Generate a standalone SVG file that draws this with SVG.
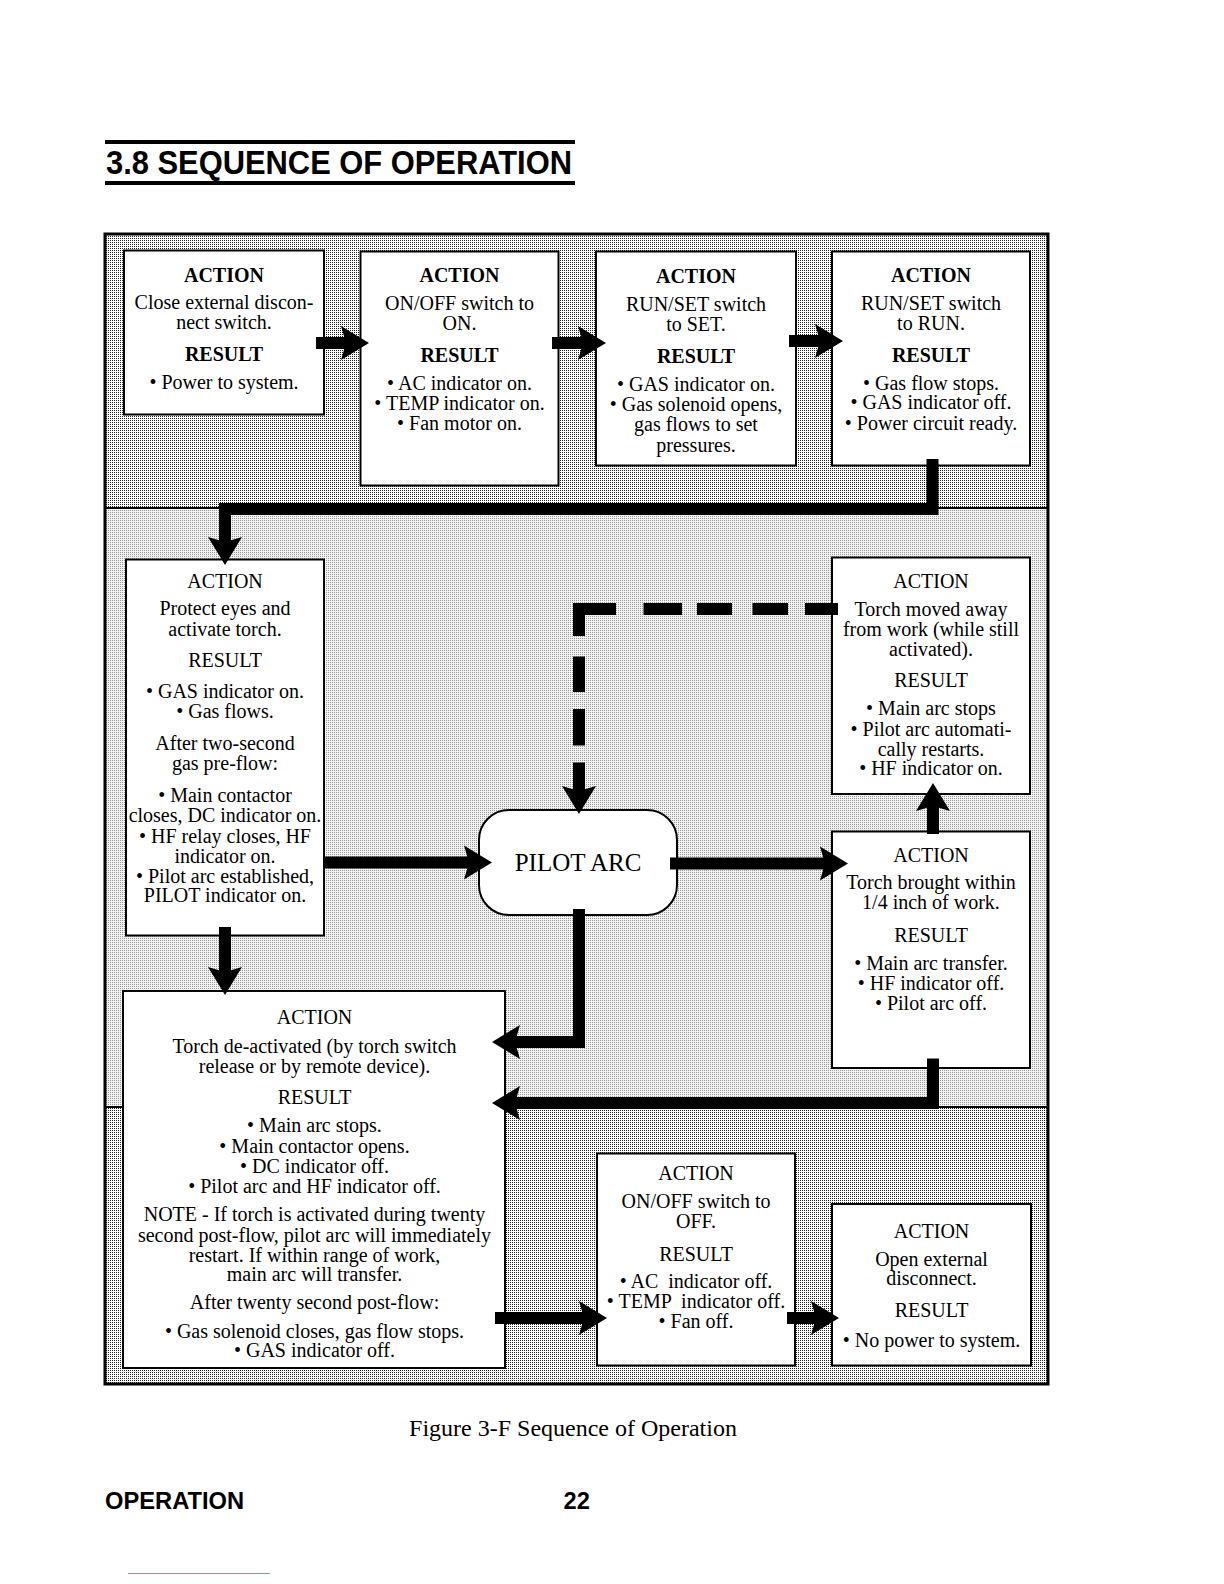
<svg xmlns="http://www.w3.org/2000/svg" width="1224" height="1584" viewBox="0 0 1224 1584">
<defs>
<pattern id="dk" width="2" height="2" patternUnits="userSpaceOnUse"><rect width="2" height="2" fill="#fff"/><rect width="1" height="1" fill="#222"/></pattern>
<pattern id="lt" width="2" height="2" patternUnits="userSpaceOnUse"><rect width="2" height="2" fill="#f2f2f2"/><rect width="1" height="1" fill="#999"/></pattern>
<marker id="ah" markerUnits="userSpaceOnUse" markerWidth="28" markerHeight="40" viewBox="0 0 28 40" refX="16" refY="20" orient="auto"><path d="M0,3 L28,20 L0,37 L5,20 Z" fill="#000"/></marker>
</defs>
<style>
.t{font-family:"Liberation Serif","Times New Roman",serif;font-size:20px;text-anchor:middle;fill:#000}
.b{font-weight:bold}
.big{font-size:25px}
.cap{font-size:24px}
.box{fill:#fff;stroke:#000;stroke-width:2}
.c{fill:none;stroke:#000;stroke-width:12;stroke-linejoin:miter}
.h{font-family:"Liberation Sans",Arial,sans-serif;font-weight:bold;fill:#000}
</style>
<rect width="1224" height="1584" fill="#fff"/>

<g id="title">
<rect x="105" y="140" width="470" height="4" fill="#000"/>
<text class="h" x="106" y="174" font-size="32.5" textLength="466" lengthAdjust="spacingAndGlyphs">3.8 SEQUENCE OF OPERATION</text>
<rect x="105" y="181" width="470" height="4" fill="#000"/>
</g>

<g id="frame">
<rect x="105" y="234" width="943" height="274" fill="url(#dk)"/>
<rect x="105" y="508" width="943" height="599" fill="url(#lt)"/>
<rect x="105" y="1107" width="943" height="277" fill="url(#dk)"/>
<line x1="105" y1="508" x2="1048" y2="508" stroke="#000" stroke-width="2"/>
<line x1="105" y1="1107" x2="1048" y2="1107" stroke="#000" stroke-width="2"/>
<rect x="105" y="234" width="943" height="1150" fill="none" stroke="#000" stroke-width="3"/>
</g>

<g id="n1">
<rect class="box" x="124" y="250.5" width="200" height="164"/>
<text class="t"><tspan class="b" x="224" y="282">ACTION</tspan><tspan x="224" y="309">Close external discon-</tspan><tspan x="224" y="329">nect switch.</tspan><tspan class="b" x="224" y="360.5">RESULT</tspan><tspan x="224" y="389">• Power to system.</tspan></text>
</g>
<g id="n2">
<rect class="box" x="360.5" y="251.5" width="198" height="234"/>
<text class="t"><tspan class="b" x="459.5" y="282">ACTION</tspan><tspan x="459.5" y="310">ON/OFF switch to</tspan><tspan x="459.5" y="330">ON.</tspan><tspan class="b" x="459.5" y="361.5">RESULT</tspan><tspan x="459.5" y="390">• AC indicator on.</tspan><tspan x="459.5" y="410">• TEMP indicator on.</tspan><tspan x="459.5" y="429.5">• Fan motor on.</tspan></text>
</g>
<g id="n3">
<rect class="box" x="596" y="251.5" width="200" height="214"/>
<text class="t"><tspan class="b" x="696" y="283">ACTION</tspan><tspan x="696" y="311">RUN/SET switch</tspan><tspan x="696" y="331">to SET.</tspan><tspan class="b" x="696" y="362.5">RESULT</tspan><tspan x="696" y="391">• GAS indicator on.</tspan><tspan x="696" y="411">• Gas solenoid opens,</tspan><tspan x="696" y="431">gas flows to set</tspan><tspan x="696" y="451.5">pressures.</tspan></text>
</g>
<g id="n4">
<rect class="box" x="832" y="251.5" width="198" height="214"/>
<text class="t"><tspan class="b" x="931" y="282">ACTION</tspan><tspan x="931" y="310">RUN/SET switch</tspan><tspan x="931" y="330">to RUN.</tspan><tspan class="b" x="931" y="361.5">RESULT</tspan><tspan x="931" y="390">• Gas flow stops.</tspan><tspan x="931" y="409">• GAS indicator off.</tspan><tspan x="931" y="429.5">• Power circuit ready.</tspan></text>
</g>
<g id="n5">
<rect class="box" x="126" y="559.5" width="198" height="376"/>
<text class="t"><tspan x="225" y="588">ACTION</tspan><tspan x="225" y="615">Protect eyes and</tspan><tspan x="225" y="635.5">activate torch.</tspan><tspan x="225" y="666.5">RESULT</tspan><tspan x="225" y="698">• GAS indicator on.</tspan><tspan x="225" y="718">• Gas flows.</tspan><tspan x="225" y="749.5">After two-second</tspan><tspan x="225" y="769.5">gas pre-flow:</tspan><tspan x="225" y="802">• Main contactor</tspan><tspan x="225" y="822">closes, DC indicator on.</tspan><tspan x="225" y="842.5">• HF relay closes, HF</tspan><tspan x="225" y="862.5">indicator on.</tspan><tspan x="225" y="883">• Pilot arc established,</tspan><tspan x="225" y="902">PILOT indicator on.</tspan></text>
</g>
<g id="n6">
<rect class="box" x="832" y="557.5" width="198" height="236.5"/>
<text class="t"><tspan x="931" y="588">ACTION</tspan><tspan x="931" y="616">Torch moved away</tspan><tspan x="931" y="635.5">from work (while still</tspan><tspan x="931" y="655.5">activated).</tspan><tspan x="931" y="687">RESULT</tspan><tspan x="931" y="715">• Main arc stops</tspan><tspan x="931" y="735.5">• Pilot arc automati-</tspan><tspan x="931" y="755.5">cally restarts.</tspan><tspan x="931" y="774.5">• HF indicator on.</tspan></text>
</g>
<g id="n7">
<rect class="box" x="832" y="831.5" width="198" height="236.5"/>
<text class="t"><tspan x="931" y="861.5">ACTION</tspan><tspan x="931" y="889">Torch brought within</tspan><tspan x="931" y="909">1/4 inch of work.</tspan><tspan x="931" y="941.5">RESULT</tspan><tspan x="931" y="969.5">• Main arc transfer.</tspan><tspan x="931" y="990">• HF indicator off.</tspan><tspan x="931" y="1010">• Pilot arc off.</tspan></text>
</g>
<g id="pilot">
<rect class="box" x="479" y="810" width="198" height="105" rx="30" ry="30"/>
<text class="t big" x="578" y="871">PILOT ARC</text>
</g>
<g id="n8">
<rect class="box" x="123" y="991" width="382" height="377"/>
<text class="t"><tspan x="314.5" y="1024">ACTION</tspan><tspan x="314.5" y="1052.5">Torch de-activated (by torch switch</tspan><tspan x="314.5" y="1072.5">release or by remote device).</tspan><tspan x="314.5" y="1104">RESULT</tspan><tspan x="314.5" y="1132">• Main arc stops.</tspan><tspan x="314.5" y="1152.5">• Main contactor opens.</tspan><tspan x="314.5" y="1172.5">• DC indicator off.</tspan><tspan x="314.5" y="1193">• Pilot arc and HF indicator off.</tspan><tspan x="314.5" y="1221">NOTE - If torch is activated during twenty</tspan><tspan x="314.5" y="1241.5">second post-flow, pilot arc will immediately</tspan><tspan x="314.5" y="1261.5">restart. If within range of work,</tspan><tspan x="314.5" y="1281">main arc will transfer.</tspan><tspan x="314.5" y="1309">After twenty second post-flow:</tspan><tspan x="314.5" y="1337.5">• Gas solenoid closes, gas flow stops.</tspan><tspan x="314.5" y="1356.5">• GAS indicator off.</tspan></text>
</g>
<g id="n9">
<rect class="box" x="597" y="1153.5" width="198" height="212"/>
<text class="t"><tspan x="696" y="1180">ACTION</tspan><tspan x="696" y="1208">ON/OFF switch to</tspan><tspan x="696" y="1228">OFF.</tspan><tspan x="696" y="1260.5">RESULT</tspan><tspan x="696" y="1288" xml:space="preserve">• AC  indicator off.</tspan><tspan x="696" y="1308" xml:space="preserve">• TEMP  indicator off.</tspan><tspan x="696" y="1328">• Fan off.</tspan></text>
</g>
<g id="n10">
<rect class="box" x="832" y="1204" width="199" height="161.5"/>
<text class="t"><tspan x="931.5" y="1237.5">ACTION</tspan><tspan x="931.5" y="1265.5">Open external</tspan><tspan x="931.5" y="1285">disconnect.</tspan><tspan x="931.5" y="1317">RESULT</tspan><tspan x="931.5" y="1346.5">• No power to system.</tspan></text>
</g>

<g id="connectors">
<path class="c" d="M316,343 H357" marker-end="url(#ah)"/>
<path class="c" d="M552,343 H594" marker-end="url(#ah)"/>
<path class="c" d="M789,341 H831" marker-end="url(#ah)"/>
<path class="c" d="M932.5,459 V509 H225 V553" marker-end="url(#ah)"/>
<g id="dashed">
<path class="c" d="M838,609 H805"/>
<path class="c" d="M788,609 H752.5"/>
<path class="c" d="M732,609 H697"/>
<path class="c" d="M682,609 H643.5"/>
<path class="c" d="M616,609 H579 V636"/>
<path class="c" d="M579,656.5 V692"/>
<path class="c" d="M579,709 V745.5"/>
<path class="c" d="M579,762.5 V802" marker-end="url(#ah)"/>
</g>
<path class="c" d="M323,862.5 H480" marker-end="url(#ah)"/>
<path class="c" d="M670,863.5 H836" marker-end="url(#ah)"/>
<path class="c" d="M933,834 V795" marker-end="url(#ah)"/>
<path class="c" d="M579,909 V1042 H504" marker-end="url(#ah)"/>
<path class="c" d="M933,1058.5 V1103 H504" marker-end="url(#ah)"/>
<path class="c" d="M225,927 V983" marker-end="url(#ah)"/>
<path class="c" d="M495,1318 H595" marker-end="url(#ah)"/>
<path class="c" d="M787,1318 H827" marker-end="url(#ah)"/>
</g>

<g id="footer">
<text class="t cap" x="573" y="1436">Figure 3-F  Sequence of Operation</text>
<text class="h" x="105" y="1509" font-size="23.7">OPERATION</text>
<text class="h" x="563.5" y="1509" font-size="23.7">22</text>
<line x1="128" y1="1573.5" x2="270" y2="1573.5" stroke="#7a96d6" stroke-width="1"/>
</g>
</svg>
